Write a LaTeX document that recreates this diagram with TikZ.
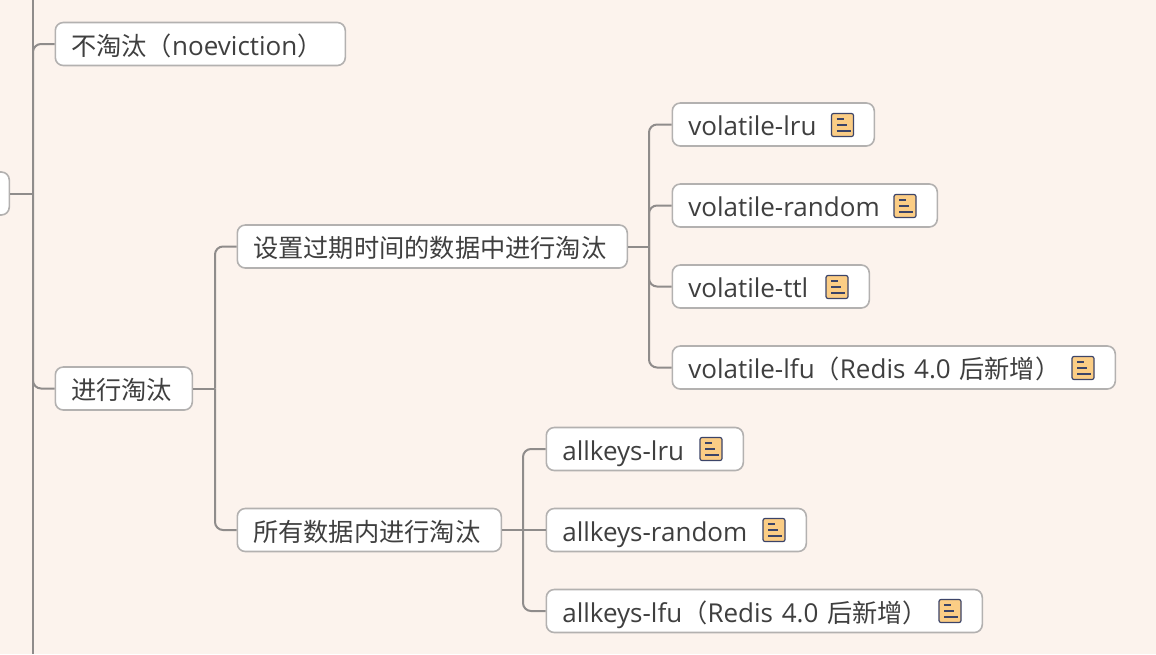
\documentclass[tikz,border=0pt]{standalone}
\usepackage{fontspec}
\setmainfont{Open Sans}
\newfontfamily\cjk[Scale=0.97]{Noto Sans CJK SC}
\definecolor{paper}{HTML}{FCF3ED}
\definecolor{inktext}{HTML}{3F3F3F}
\definecolor{boxline}{HTML}{B3B1B0}
\definecolor{linkline}{HTML}{8F8C8B}
\definecolor{notefill}{HTML}{FBCD85}
\definecolor{noteline}{HTML}{3C4468}
\tikzset{topic/.style={draw=boxline,fill=white,line width=1.6pt,rounded corners=8pt,anchor=west,
                       text=inktext,font=\fontsize{26}{30}\selectfont,align=left,
                       inner xsep=16pt,inner ysep=9.5pt,text height=23pt,text depth=1pt,text width=#1},
         link/.style={draw=linkline,line width=2pt,rounded corners=8pt},
         noteicon/.pic={
            \draw[noteline,fill=notefill,line width=1.2pt,rounded corners=2pt](-11,-11.5)rectangle(11,11.5);
            \draw[noteline,line width=1.2pt](-6,-6)--(1,-6);
            \draw[noteline,line width=1.2pt](-6,0)--(4,0);
            \draw[noteline,line width=1.2pt](-6,6)--(8,6);
         },
        }
\begin{document}
\begin{tikzpicture}[x=1pt,y=-1pt]
        \useasboundingbox(0,0)rectangle(1156,654);
        \fill[paper](0,0)rectangle(1156,654);

        \node[topic=61pt](root)at(-84.5,193.5){};
        \node[topic=258pt](keep)at(54.5,44){{\cjk 不淘汰（}noeviction{\cjk ）}};
        \node[topic=105pt](evict)at(54.5,388.5){\cjk 进行淘汰};
        \node[topic=358pt](expire)at(236.5,246.5){\cjk 设置过期时间的数据中进行淘汰};
        \node[topic=232pt](every)at(236.5,530){\cjk 所有数据内进行淘汰};

        \node[topic=170pt](vlru)at(671.5,124.5){volatile-lru};
        \node[topic=233pt](vrandom)at(671.5,205.5){volatile-random};
        \node[topic=165pt](vttl)at(671.5,286.5){volatile-ttl};
        \node[topic=411pt](vlfu)at(671.5,367.5){volatile-lfu{\cjk （}Redis 4.0 {\cjk 后新增）}};
        \node[topic=165pt](alru)at(545.5,449){allkeys-lru};
        \node[topic=228pt](arandom)at(545.5,530){allkeys-random};
        \node[topic=404pt](alfu)at(545.5,611){allkeys-lfu{\cjk （}Redis 4.0 {\cjk 后新增）}};

        \pic at(842.5,125){noteicon};
        \pic at(905,206){noteicon};
        \pic at(837,287){noteicon};
        \pic at(1083,368){noteicon};
        \pic at(711,449){noteicon};
        \pic at(774,530){noteicon};
        \pic at(950,611){noteicon};

        \coordinate(top)at(33,0);
        \coordinate(bottom)at(33,654);
        \coordinate(spine)at(33,193.5);
        \coordinate(fork1)at(215,388.5);
        \coordinate(fork2)at(649,246.5);
        \coordinate(fork3)at(523,530);

        \draw[link](top)--(bottom);
        \draw[link](root.east)--(spine);
        \draw[link](spine)|-(keep.west);
        \draw[link](spine)|-(evict.west);

        \draw[link](evict.east)--(fork1);
        \draw[link](fork1)|-(expire.west);
        \draw[link](fork1)|-(every.west);

        \draw[link](expire.east)--(fork2);
        \draw[link](fork2)|-(vlru.west);
        \draw[link](fork2)|-(vrandom.west);
        \draw[link](fork2)|-(vttl.west);
        \draw[link](fork2)|-(vlfu.west);

        \draw[link](every.east)--(arandom.west);
        \draw[link](fork3)|-(alru.west);
        \draw[link](fork3)|-(alfu.west);
    \end{tikzpicture}
\end{document}
